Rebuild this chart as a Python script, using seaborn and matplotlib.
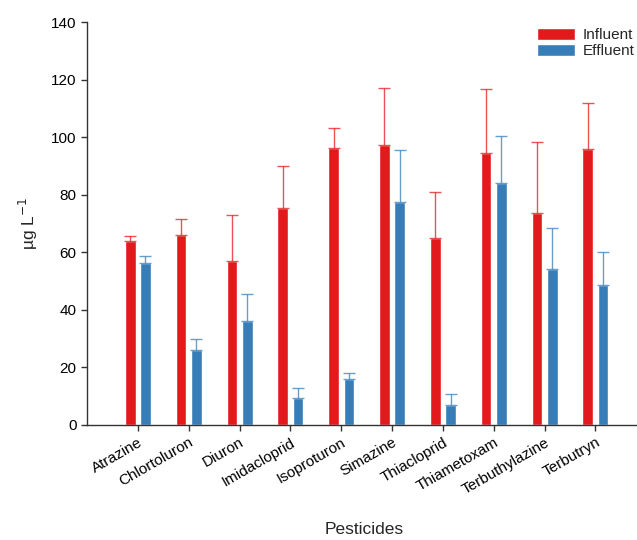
import numpy as np
import pandas as pd
import seaborn as sns
import matplotlib.pyplot as plt

pesticides = ["Atrazine", "Chlortoluron", "Diuron", "Imidacloprid", "Isoproturon",
              "Simazine", "Thiacloprid", "Thiametoxam", "Terbuthylazine", "Terbutryn"]
influent = [63.9, 66.0, 56.9, 75.5, 96.3, 97.3, 65.1, 94.4, 73.5, 95.8]
influent_err = [1.9, 5.7, 16.1, 14.6, 6.8, 19.9, 16.0, 22.3, 25.0, 16.0]
effluent = [56.3, 26.1, 36.2, 9.3, 16.0, 77.4, 7.0, 84.0, 54.2, 48.5]
effluent_err = [2.3, 3.8, 9.4, 3.5, 2.0, 18.2, 3.6, 16.5, 14.1, 11.5]

red = "#E31A1C"
blue = "#377EB8"

df = pd.DataFrame({
    "Pesticides": pesticides * 2,
    "value": influent + effluent,
    "err": influent_err + effluent_err,
    "group": ["Influent"] * len(pesticides) + ["Effluent"] * len(pesticides),
})

sns.set_style("ticks")
plt.rcParams['font.family'] = ['Liberation Sans', 'DejaVu Sans']

fig = plt.figure(figsize=(6.37, 5.4), dpi=100)
ax = fig.add_axes([0.1366, 0.213, 0.87, 0.746])

sns.barplot(data=df, x="Pesticides", y="value", hue="group",
            palette=[red, blue], width=0.6, gap=0.3, errorbar=None,
            saturation=1, ax=ax)

# upward error bars on each bar
for cont, errs, c in zip(ax.containers, [influent_err, effluent_err], [red, blue]):
    xs = [p.get_x() + p.get_width() / 2 for p in cont.patches]
    ys = [p.get_height() for p in cont.patches]
    ax.errorbar(xs, ys, yerr=[np.zeros(len(errs)), errs], fmt="none",
                ecolor=c, elinewidth=1, capsize=4.5, capthick=1, alpha=0.75)

ax.set_ylim(0, 140)
ax.set_xlim(-1.0, 9.9)
ax.set_yticks(range(0, 141, 20))
ax.set_ylabel("µg L$^{-1}$", fontsize=12.5, labelpad=8)
ax.set_xlabel("Pesticides", fontsize=12.5, labelpad=18)
ax.tick_params(axis="both", labelsize=11, length=4, width=1, colors="#333333",
               labelcolor="black")
plt.setp(ax.get_xticklabels(), rotation=30, ha="right", rotation_mode="anchor")
for s in ["left", "bottom"]:
    ax.spines[s].set_color("#333333")
    ax.spines[s].set_linewidth(1)
sns.despine(ax=ax)

ax.legend(loc="upper left", bbox_to_anchor=(0.812, 0.985), frameon=False,
          fontsize=11, handlelength=2.5, handleheight=0.8, handletextpad=0.5,
          labelspacing=0.1, borderpad=0, borderaxespad=0)

fig.savefig("out.png", dpi=100)
